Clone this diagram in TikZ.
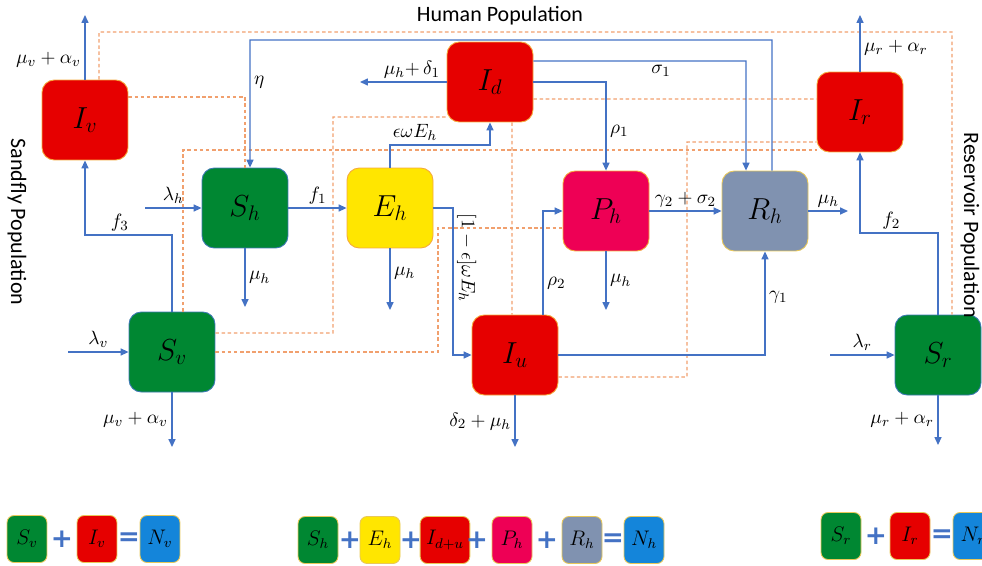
\documentclass[tikz,border=0pt]{standalone}
\usepackage{fontspec}
\newfontfamily\popfont{Carlito}
\newfontfamily\opfont{DejaVu Sans}
\usetikzlibrary{arrows.meta}
\definecolor{flowblue}{RGB}{68,114,196}
\definecolor{contactorange}{RGB}{241,160,110}
\definecolor{redI}{RGB}{230,0,0}
\definecolor{greenS}{RGB}{0,135,50}
\definecolor{yellowE}{RGB}{255,230,0}
\definecolor{pinkP}{RGB}{238,0,85}
\definecolor{greyR}{RGB}{128,146,176}
\definecolor{blueN}{RGB}{20,133,218}
\definecolor{warmedge}{RGB}{245,170,60}
\definecolor{coldedge}{RGB}{60,120,180}
\definecolor{legedge}{RGB}{232,200,90}
\begin{document}
\begin{tikzpicture}[x=0.02cm,y=-0.02cm,>={Triangle[length=4.5pt,width=4pt]},
	box/.style={rounded corners=7pt,minimum width=1.72cm,minimum height=1.6cm,line width=0.5pt,font=\fontsize{18}{20}\selectfont},
	flow/.style={->,flowblue,line width=0.7pt},
	contact/.style={contactorange,line width=0.6pt,dash pattern=on 2pt off 1.5pt},
	lbl/.style={text=black,font=\fontsize{11}{13}\selectfont,inner sep=2pt},
	leg/.style={rounded corners=4pt,minimum width=0.8cm,minimum height=0.94cm,draw=legedge,line width=0.5pt,font=\fontsize{12}{14}\selectfont},
	op/.style={text=flowblue,font=\opfont\bfseries\fontsize{15}{17}\selectfont,inner sep=0pt},
	pop/.style={font=\popfont\fontsize{12.5}{14}\selectfont}]
	\useasboundingbox (0,0) rectangle (982,565);
	% compartments
	\node[box,fill=redI,draw=warmedge] (Iv) at (85,120) {$I_v$};
	\node[box,fill=greenS,draw=coldedge] (Sv) at (172,352) {$S_v$};
	\node[box,fill=greenS,draw=coldedge] (Sh) at (245,208) {$S_h$};
	\node[box,fill=yellowE,draw=warmedge] (Eh) at (390,208) {$E_h$};
	\node[box,fill=redI,draw=warmedge] (Id) at (490,82) {$I_d$};
	\node[box,fill=redI,draw=warmedge] (Iu) at (515,355) {$I_u$};
	\node[box,fill=pinkP,draw=warmedge] (Ph) at (606,211) {$P_h$};
	\node[box,fill=greyR,draw=legedge] (Rh) at (765,211) {$R_h$};
	\node[box,fill=redI,draw=warmedge] (Ir) at (860,112) {$I_r$};
	\node[box,fill=greenS,draw=coldedge] (Sr) at (938,355) {$S_r$};
	\node[pop] (human) at (500,16) {Human Population};
	\node[pop,rotate=-90] (sandfly) at (17,222) {Sandfly Population};
	\node[pop,rotate=-90] (reservoir) at (970,225) {Reservoir Population};
	% free ends
	\coordinate (oIv) at (85,15);
	\coordinate (inSv) at (68,352);
	\coordinate (oSv) at (172,447);
	\coordinate (inSh) at (145,208);
	\coordinate (oSh) at (245,307);
	\coordinate (oEh) at (390,310);
	\coordinate (oId) at (360,82);
	\coordinate (oPh) at (606,310);
	\coordinate (oRh) at (848,211);
	\coordinate (oIu) at (515,447);
	\coordinate (oIr) at (860,15);
	\coordinate (inSr) at (830,355);
	\coordinate (oSr) at (938,445);
	% contacts
	\draw[contact] ([xshift=0.28cm]Iv.north) -- (99,32) -- (952,32) -- ([xshift=0.28cm]Sr.north);
	\draw[contact] ([yshift=0.46cm]Iv.east) -| (Sh.north);
	\draw[contact] ([xshift=0.22cm]Sv.north) |- ([yshift=-0.76cm]Ir.west);
	\draw[contact] ([yshift=0.38cm]Sv.east) -- (333,333) |- ([yshift=-0.7cm]Id.west);
	\draw[contact] (Sv.east) -- (438,352) |- ([yshift=-0.34cm]Ph.west);
	\draw[contact] ([xshift=0.44cm]Id.south) -- ([xshift=-0.06cm]Iu.north);
	\draw[contact] ([yshift=-0.34cm]Id.east) -- ([yshift=0.26cm]Ir.west);
	\draw[contact] ([yshift=-0.44cm]Iu.east) -- (687,377) |- ([yshift=-0.6cm]Ir.west);
	% flows
	\draw[flow] (Iv.north) -- node[lbl,left,pos=0.3] (aIv) {$\mu_v+\alpha_v$} (oIv);
	\draw[flow] (Sv.north) -- (172,235) -- node[lbl,above,pos=0.6] (af3) {$f_3$} (85,235) -- (Iv.south);
	\draw[flow] (inSv) -- node[lbl,above] (alv) {$\lambda_v$} (Sv.west);
	\draw[flow] (Sv.south) -- node[lbl,left] (aSv) {$\mu_v+\alpha_v$} (oSv);
	\draw[flow] ([xshift=0.14cm]Rh.north) -- (772,40) -- (250,40) -- node[lbl,right,pos=0.33] (aeta) {$\eta$} ([xshift=0.1cm]Sh.north);
	\draw[flow] (inSh) -- node[lbl,above] (alh) {$\lambda_h$} (Sh.west);
	\draw[flow] (Sh.south) -- node[lbl,right] (aSh) {$\mu_h$} (oSh);
	\draw[flow] (Sh.east) -- node[lbl,above] (af1) {$f_1$} (Eh.west);
	\draw[flow] (Eh.south) -- node[lbl,right,pos=0.4] (aEh) {$\mu_h$} (oEh);
	\draw[flow] (Eh.north) -- (390,145) -- node[lbl,above,pos=0.25] (aEId) {$\epsilon\omega E_h$} (490,145) -- (Id.south);
	\draw[flow] (Eh.east) -- (453,208) -- node[lbl,rotate=-90,anchor=south,pos=0.34] (aEIu) {$[1-\epsilon]\omega E_h$} (453,355) -- (Iu.west);
	\draw[flow] (Id.west) -- node[lbl,above,pos=0.4] (aId) {$\mu_h{+}\,\delta_1$} (oId);
	\draw[flow] ([yshift=0.42cm]Id.east) -- node[lbl,below,pos=0.6] (as1) {$\sigma_1$} (746,61) -- ([xshift=-0.38cm]Rh.north);
	\draw[flow] (Id.east) -| node[lbl,right,pos=0.78] (ar1) {$\rho_1$} (Ph.north);
	\draw[flow] (Ph.south) -- node[lbl,right] (aPh) {$\mu_h$} (oPh);
	\draw[flow] (Ph.east) -- node[lbl,above] (ag2) {$\gamma_2+\sigma_2$} (Rh.west);
	\draw[flow] (Rh.east) -- node[lbl,above] (aRh) {$\mu_h$} (oRh);
	\draw[flow] ([xshift=0.56cm]Iu.north) |- node[lbl,right,pos=0.15] (ar2) {$\rho_2$} (Ph.west);
	\draw[flow] (Iu.east) -| node[lbl,right,pos=0.78] (ag1) {$\gamma_1$} (Rh.south);
	\draw[flow] (Iu.south) -- node[lbl,left] (aIu) {$\delta_2+\mu_h$} (oIu);
	\draw[flow] (Sr.north) -- (938,233) -- node[lbl,above,pos=0.6] (af2) {$f_2$} (860,233) -- (Ir.south);
	\draw[flow] (Ir.north) -- node[lbl,right,pos=0.42] (aIr) {$\mu_r+\alpha_r$} (oIr);
	\draw[flow] (inSr) -- node[lbl,above] (alr) {$\lambda_r$} (Sr.west);
	\draw[flow] (Sr.south) -- node[lbl,left] (aSr) {$\mu_r+\alpha_r$} (oSr);
	% totals
	\node[leg,fill=greenS] (tSv) at (27,539) {$S_v$};
	\node[op] (pv1) at (62,539) {+};
	\node[leg,fill=redI] (tIv) at (97,539) {$I_v$};
	\node[op] (ev) at (129,539) {=};
	\node[leg,fill=blueN] (tNv) at (160,539) {$N_v$};
	\node[leg,fill=greenS] (tSh) at (318,540) {$S_h$};
	\node[op] (ph1) at (350,540) {+};
	\node[leg,fill=yellowE] (tEh) at (380,540) {$E_h$};
	\node[op] (ph2) at (411,540) {+};
	\node[leg,fill=redI] (tIh) at (445,540) {$I_{d+u}$};
	\node[op] (ph3) at (477,540) {+};
	\node[leg,fill=pinkP] (tPh) at (512,540) {$P_h$};
	\node[op] (ph4) at (547,540) {+};
	\node[leg,fill=greyR] (tRh) at (582,540) {$R_h$};
	\node[op] (eh) at (613,540) {=};
	\node[leg,fill=blueN] (tNh) at (644,540) {$N_h$};
	\node[leg,fill=greenS] (tSr) at (841,536) {$S_r$};
	\node[op] (pr1) at (876,536) {+};
	\node[leg,fill=redI] (tIr) at (910,536) {$I_r$};
	\node[op] (er) at (942,536) {=};
	\node[leg,fill=blueN] (tNr) at (973,536) {$N_r$};
\end{tikzpicture}
\end{document}
